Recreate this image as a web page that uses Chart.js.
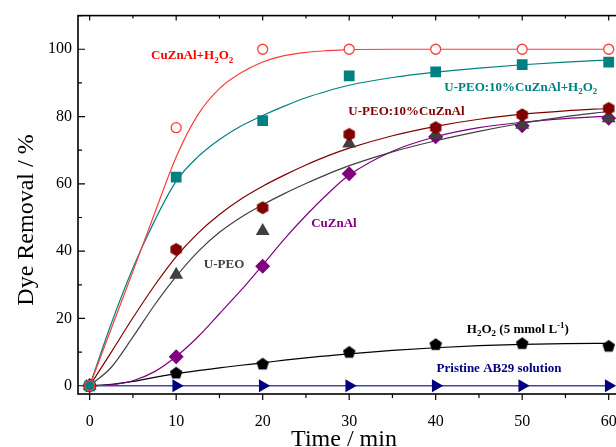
<!DOCTYPE html>
<html>
<head>
<meta charset="utf-8">
<title>Dye removal</title>
<script src="https://cdn.jsdelivr.net/npm/chart.js@4.4.1/dist/chart.umd.min.js"></script>
<style>
  html, body { margin: 0; padding: 0; overflow: hidden; background: #fff; }
  canvas { display: block; }
</style>
</head>
<body>
<canvas id="dyeChart" width="640" height="447"></canvas>
<script>
// measured points (min, %)
const timePts = [0, 10, 20, 30, 40, 50, 60];
const cuznalH2o2 = [0, 76.7, 100, 100, 100, 100, 100];
const upeoCuznalH2o2 = [0, 62, 78.8, 92.1, 93.3, 95.4, 96.2];
const upeoCuznal = [0, 40.5, 52.9, 74.7, 76.7, 80.5, 82.4];
const upeo = [0, 33, 46, 72, 74.6, 77.6, 79.5];
const cuznal = [0, 8.6, 35.5, 63, 74, 77.3, 79.5];
const h2o2 = [0, 3.7, 6.4, 9.9, 12.2, 12.5, 11.7];
const pristine = [0, 0, 0, 0, 0, 0, 0];

// fitted curves
const fitTime = [0, 2.5, 5, 7.5, 10, 12.5, 15, 17.5, 20, 22.5, 25, 27.5, 30, 35, 40, 45, 50, 55, 60];
const fitCuznalH2o2 = [0, 17, 34, 51.2, 68, 80.5, 88.3, 93, 96.2, 98.1, 99.1, 99.6, 99.9, 100, 100, 100, 100, 100, 100];
const fitUpeoCuznalH2o2 = [0, 18.5, 35, 49, 60.8, 68, 73.2, 77.2, 80.3, 83.1, 85.6, 87.6, 89.3, 91.6, 93.2, 94.4, 95.4, 96.2, 96.8];
const fitUpeoCuznal = [0, 10, 20.2, 29.8, 38.4, 45.3, 50.9, 55.5, 59.3, 62.6, 65.6, 68.3, 70.6, 74.3, 77.1, 79.2, 80.7, 81.7, 82.4];
const fitUpeo = [0, 5.5, 14.5, 24, 32.5, 39.8, 45.6, 50.1, 53.8, 57.1, 60.1, 62.9, 65.4, 69.5, 72.8, 75.6, 78, 80, 81.5];
const fitCuznal = [0, 0.3, 1.5, 4.2, 8.7, 14.5, 21.4, 28.4, 35.9, 43.6, 50.6, 57, 62.6, 69.7, 74, 76.7, 78.3, 79.4, 80.1];
const fitH2o2 = [0, 0.4, 1.3, 2.5, 3.6, 4.5, 5.3, 6.1, 6.8, 7.6, 8.3, 8.9, 9.5, 10.5, 11.3, 11.9, 12.3, 12.5, 12.6];

const xTicks = [0, 10, 20, 30, 40, 50, 60];
const yTicks = [0, 20, 40, 60, 80, 100];

const serif = "'Liberation Serif', 'Times New Roman', serif";

function pts(ys) { return timePts.map((t, i) => ({ x: t, y: ys[i] })); }
function fit(ys) { return fitTime.map((t, i) => ({ x: t, y: ys[i] })); }

// hexagon / pentagon markers
function polyMarker(sides, r, color) {
  const c = document.createElement('canvas');
  const s = Math.ceil(r * 2 + 2);
  c.width = s; c.height = s;
  const g = c.getContext('2d');
  g.beginPath();
  for (let k = 0; k < sides; k++) {
    const a = -Math.PI / 2 + k * 2 * Math.PI / sides;
    const px = s / 2 + r * Math.cos(a), py = s / 2 + r * Math.sin(a);
    if (k === 0) g.moveTo(px, py); else g.lineTo(px, py);
  }
  g.closePath();
  g.fillStyle = color;
  g.fill();
  return c;
}
const hexagon = polyMarker(6, 6.6, '#800000');
const pentagon = polyMarker(5, 6.6, '#000000');

function fitLine(ys, color) {
  return {
    data: fit(ys), showLine: true, borderColor: color, borderWidth: 1.2,
    pointRadius: 0, cubicInterpolationMode: 'monotone', fill: false, order: 10
  };
}

const datasets = [
  fitLine(fitCuznalH2o2, '#ff3b3b'),
  fitLine(fitUpeoCuznalH2o2, '#008080'),
  fitLine(fitUpeoCuznal, '#800000'),
  fitLine(fitUpeo, '#404040'),
  fitLine(fitCuznal, '#800080'),
  fitLine(fitH2o2, '#000000'),
  { data: pts(pristine), showLine: true, borderColor: '#4646a6', borderWidth: 1.6,
    pointStyle: 'triangle', pointRotation: 90, pointRadius: 7.5, pointBackgroundColor: '#000080',
    pointBorderWidth: 0, order: 7 },
  { data: pts(h2o2), pointStyle: pentagon, order: 6 },
  { data: pts(cuznal), pointStyle: 'rectRot', pointRadius: 7.5, pointBackgroundColor: '#800080',
    pointBorderWidth: 0, order: 5 },
  { data: pts(upeo), pointStyle: 'triangle', pointRadius: 8, pointBackgroundColor: '#404040',
    pointBorderWidth: 0, order: 4 },
  { data: pts(upeoCuznal), pointStyle: hexagon, order: 3 },
  { data: pts(upeoCuznalH2o2), pointStyle: 'rect', pointRadius: 7.6, pointBackgroundColor: '#008080',
    pointBorderWidth: 0, order: 2 },
  { data: pts(cuznalH2o2), pointStyle: 'circle', pointRadius: 5, pointBorderColor: '#ff3b3b',
    pointBorderWidth: 1.3, order: 1,
    pointBackgroundColor: c => (c.raw && c.raw.x === 0) ? 'rgba(255,255,255,0)' : '#ffffff' }
];

// curve labels: [text, 0 normal / 1 sub / 2 sup]
const notes = [
  { parts: [['CuZnAl+H', 0], ['2', 1], ['O', 0], ['2', 1]], t: 7.1, v: 97.1, color: '#ff0000' },
  { parts: [['U-PEO:10%CuZnAl+H', 0], ['2', 1], ['O', 0], ['2', 1]], t: 41.0, v: 87.6, color: '#008080' },
  { parts: [['U-PEO:10%CuZnAl', 0]], t: 29.9, v: 80.5, color: '#800000' },
  { parts: [['U-PEO', 0]], t: 13.2, v: 34.9, color: '#404040' },
  { parts: [['CuZnAl', 0]], t: 25.6, v: 47.3, color: '#800080' },
  { parts: [['H', 0], ['2', 1], ['O', 0], ['2', 1], [' (5 mmol L', 0], ['-1', 2], [')', 0]], t: 43.6, v: 15.7, color: '#000000' },
  { parts: [['Pristine AB29 solution', 0]], t: 40.1, v: 4.0, color: '#000080' }
];

const framePlugin = {
  id: 'frame',
  beforeDatasetsDraw(chart) {
    const { ctx, chartArea: a, scales: { x, y } } = chart;
    ctx.save();
    ctx.strokeStyle = '#000';
    ctx.lineWidth = 1.6;
    ctx.strokeRect(a.left, a.top, a.right - a.left, a.bottom - a.top);
    ctx.lineWidth = 1.2;
    ctx.beginPath();
    for (let t = 0; t <= 60; t += 5) {
      const px = x.getPixelForValue(t);
      const major = t % 10 === 0;
      ctx.moveTo(px, a.bottom); ctx.lineTo(px, a.bottom + (major ? 6 : 4));
      ctx.moveTo(px, a.top); ctx.lineTo(px, a.top + (major ? 5 : 3));
    }
    for (let v = 0; v <= 110; v += 10) {
      const py = y.getPixelForValue(v);
      const major = v % 20 === 0;
      ctx.moveTo(a.left, py); ctx.lineTo(a.left + (major ? 7 : 4), py);
    }
    ctx.stroke();
    ctx.restore();
  },
  afterDatasetsDraw(chart) {
    const { ctx, scales: { x, y } } = chart;
    ctx.save();
    // curve labels
    notes.forEach(n => {
      let px = x.getPixelForValue(n.t);
      const py = y.getPixelForValue(n.v);
      ctx.fillStyle = n.color;
      ctx.textBaseline = 'alphabetic';
      n.parts.forEach(([txt, mode]) => {
        ctx.font = 'bold ' + (mode ? 9 : 13) + 'px ' + serif;
        const dy = mode === 1 ? 3.5 : (mode === 2 ? -5 : 0);
        ctx.fillText(txt, px, py + dy);
        px += ctx.measureText(txt).width;
      });
    });
    // axis titles
    ctx.fillStyle = '#000';
    ctx.font = '24px ' + serif;
    ctx.textAlign = 'center';
    ctx.fillText('Time / min', 344, 446);
    ctx.translate(33, 220);
    ctx.rotate(-Math.PI / 2);
    ctx.fillText('Dye Removal / %', 0, 0);
    ctx.restore();
  }
};

new Chart(document.getElementById('dyeChart'), {
  type: 'scatter',
  data: { datasets },
  options: {
    responsive: false,
    animation: false,
    events: [],
    layout: { padding: { top: 14, right: 14, left: 0, bottom: 0 } },
    plugins: { legend: { display: false }, tooltip: { enabled: false } },
    elements: { point: { hoverRadius: 0 } },
    scales: {
      x: {
        type: 'linear', min: -1.35, max: 62,
        grid: { display: false, drawTicks: false },
        border: { display: false },
        afterBuildTicks: s => { s.ticks = xTicks.map(v => ({ value: v })); },
        afterFit: s => { s.height = 53; },
        ticks: { font: { family: serif, size: 16 }, color: '#000', padding: 18, maxRotation: 0 }
      },
      y: {
        type: 'linear', min: -2.45, max: 110,
        grid: { display: false, drawTicks: false },
        border: { display: false },
        afterBuildTicks: s => { s.ticks = yTicks.map(v => ({ value: v })); },
        afterFit: s => { s.width = 78; },
        ticks: { font: { family: serif, size: 16 }, color: '#000', padding: 6 }
      }
    }
  },
  plugins: [framePlugin]
});
</script>
</body>
</html>
